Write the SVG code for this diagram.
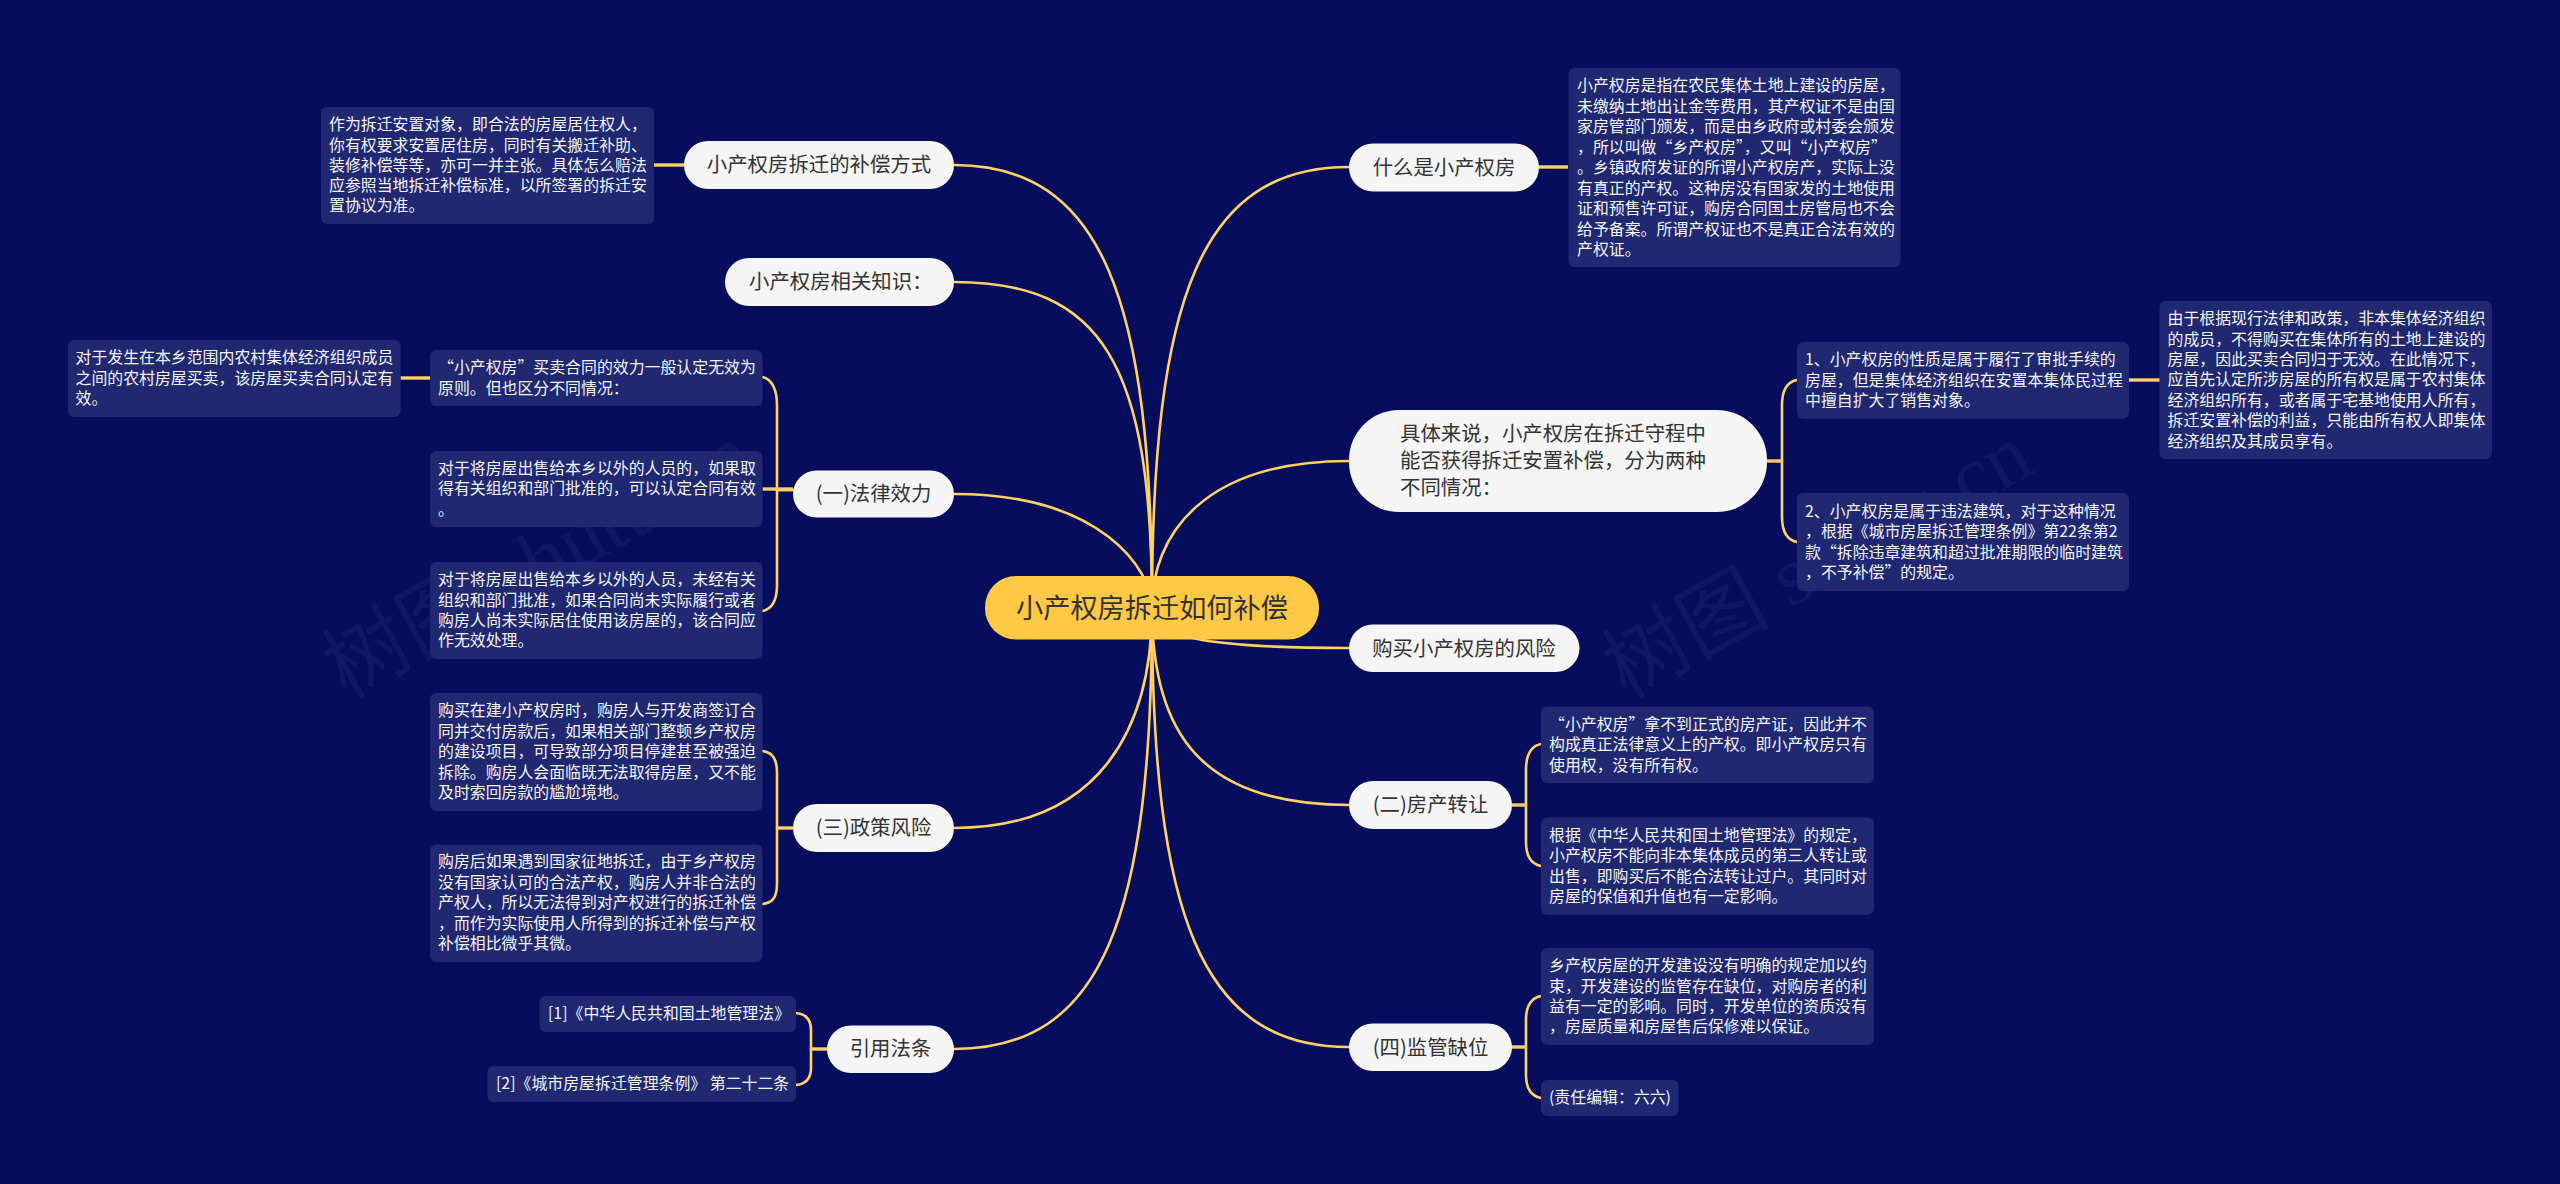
<svg xmlns="http://www.w3.org/2000/svg" width="2560" height="1184" viewBox="0 0 2560 1184">
<style>
text{font-family:"Noto Sans CJK SC","Noto Sans",sans-serif}
.c{fill:none;stroke:#ffd166;stroke-width:2.6;stroke-linecap:round}
.s{fill:none;stroke:#ffd166;stroke-width:3.4}
.n{fill:#f5f5f5}
.nt{fill:#333;font-size:20.4px;text-anchor:middle}
.ntl{fill:#333;font-size:20.4px}
.d{fill:#1f2870}
.dt{fill:#f4f4f8;font-size:15.9px}
.w{fill:#1a2070;font-size:84px;font-family:"Liberation Serif","Noto Sans CJK SC",serif;opacity:.55}
</style>
<rect width="2560" height="1184" fill="#050d5c"/>
<g id="watermark">
<text class="w" transform="translate(345 700) rotate(-29)">树图 shutu.cn</text>
<text class="w" transform="translate(1625 700) rotate(-29)">树图 shutu.cn</text>
</g>
<g id="connectors">
<path class="c" d="M1152,608C1152,298 1201,167 1349,167"/>
<path class="c" d="M1152,608C1152,537 1201,461 1349,461"/>
<path class="c" d="M1152,608C1152,636 1201,648 1349,648"/>
<path class="c" d="M1152,608C1152,733 1201,805 1349,805"/>
<path class="c" d="M1152,608C1152,915 1201,1047 1349,1047"/>
<path class="c" d="M1152,608C1152,298 1102,165 954,165"/>
<path class="c" d="M1152,608C1152,363 1102,282 954,282"/>
<path class="c" d="M1152,608C1152,570 1102,494 954,494"/>
<path class="c" d="M1152,608C1152,725 1102,828 954,828"/>
<path class="c" d="M1152,608C1152,920 1102,1049 954,1049"/>
<path class="s" d="M654,165H684"/>
<path class="s" d="M400.5,378H430"/>
<path class="s" d="M762.5,489H793"/>
<path class="c" d="M793,490H777V405C777,390 772,379 762.5,377"/>
<path class="c" d="M793,490H777V585C777,600 772,609 762.5,611"/>
<path class="s" d="M793,828H777"/>
<path class="c" d="M777,828V772C777,758 772,752 762.5,751"/>
<path class="c" d="M777,828V884C777,898 772,903 762.5,904"/>
<path class="s" d="M827,1049H811"/>
<path class="c" d="M811,1049V1030C811,1020 806,1014 796,1013"/>
<path class="c" d="M811,1049V1068C811,1078 806,1084 796,1085"/>
<path class="s" d="M1539,167H1568"/>
<path class="s" d="M1767,461H1782"/>
<path class="c" d="M1782,461V405C1782,390 1787,382 1797,380"/>
<path class="c" d="M1782,461V517C1782,532 1787,540 1797,542"/>
<path class="s" d="M2129,380H2160"/>
<path class="s" d="M1512,805H1526"/>
<path class="c" d="M1526,805V770C1526,755 1531,746 1541,744"/>
<path class="c" d="M1526,805V842C1526,857 1531,864 1541,866"/>
<path class="s" d="M1512,1047H1526"/>
<path class="c" d="M1526,1047V1020C1526,1007 1531,998 1541,996"/>
<path class="c" d="M1526,1047V1075C1526,1088 1531,1096 1541,1098"/>
</g>
<g id="root"><rect x="985" y="576" width="334" height="63.5" rx="31" fill="#ffc845"/><text x="1152" y="617.5" text-anchor="middle" fill="#333" font-size="27.2">小产权房拆迁如何补偿</text></g>

<g id="n1"><rect class="n" x="684" y="141" width="270" height="48" rx="24"/><text class="nt" x="819" y="172">小产权房拆迁的补偿方式</text></g>
<g id="n2"><rect class="n" x="725" y="258" width="229" height="48" rx="24"/><text class="ntl" x="749" y="289">小产权房相关知识：</text></g>
<g id="n3"><rect class="n" x="793" y="470.5" width="161" height="47" rx="23.5"/><text class="nt" x="873.5" y="501">(一)法律效力</text></g>
<g id="n4"><rect class="n" x="793" y="804" width="161" height="48" rx="24"/><text class="nt" x="873.5" y="835">(三)政策风险</text></g>
<g id="n5"><rect class="n" x="827" y="1025.5" width="127" height="47.5" rx="23.7"/><text class="nt" x="890.5" y="1056">引用法条</text></g>
<g id="n6"><rect class="n" x="1349" y="143.5" width="190" height="48" rx="24"/><text class="nt" x="1444" y="174.5">什么是小产权房</text></g>
<g id="n7"><rect class="n" x="1349" y="410" width="418" height="102" rx="50"/><text class="ntl" x="1400" y="440.7">具体来说，小产权房在拆迁守程中</text><text class="ntl" x="1400" y="468">能否获得拆迁安置补偿，分为两种</text><text class="ntl" x="1400" y="495.3">不同情况：</text></g>
<g id="n8"><rect class="n" x="1349" y="624.5" width="230.500" height="47.5" rx="23.700"/><text class="nt" x="1464" y="655.500">购买小产权房的风险</text></g>
<g id="n9"><rect class="n" x="1349" y="781" width="163" height="48" rx="24"/><text class="nt" x="1430.500" y="812">(二)房产转让</text></g>
<g id="n10"><rect class="n" x="1349" y="1023.500" width="163" height="47.500" rx="23.700"/><text class="nt" x="1430.500" y="1054.500">(四)监管缺位</text></g>

<g id="d1"><rect class="d" x="321" y="107" width="333" height="117" rx="6"/><text class="dt" x="329" y="130.2">作为拆迁安置对象，即合法的房屋居住权人，</text><text class="dt" x="329" y="150.500">你有权要求安置居住房，同时有关搬迁补助、</text><text class="dt" x="329" y="170.800">装修补偿等等，亦可一并主张。具体怎么赔法</text><text class="dt" x="329" y="191.100">应参照当地拆迁补偿标准，以所签署的拆迁安</text><text class="dt" x="329" y="211.400">置协议为准。</text></g>
<g id="d2"><rect class="d" x="68" y="340" width="332.500" height="77" rx="6"/><text class="dt" x="75.500" y="363.400">对于发生在本乡范围内农村集体经济组织成员</text><text class="dt" x="75.500" y="383.800">之间的农村房屋买卖，该房屋买卖合同认定有</text><text class="dt" x="75.500" y="404.200">效。</text></g>
<g id="d3"><rect class="d" x="430" y="350" width="332.500" height="56" rx="6"/><text class="dt" x="438" y="373.100">  “小产权房”买卖合同的效力一般认定无效为</text><text class="dt" x="438" y="393.500">原则。但也区分不同情况：</text></g>
<g id="d4"><rect class="d" x="430" y="451" width="332.500" height="76" rx="6"/><text class="dt" x="438" y="473.900">对于将房屋出售给本乡以外的人员的，如果取</text><text class="dt" x="438" y="494.300">得有关组织和部门批准的，可以认定合同有效</text><text class="dt" x="438" y="514.700">。</text></g>
<g id="d5"><rect class="d" x="430" y="562" width="332.500" height="97" rx="6"/><text class="dt" x="438" y="585.200">对于将房屋出售给本乡以外的人员，未经有关</text><text class="dt" x="438" y="605.600">组织和部门批准，如果合同尚未实际履行或者</text><text class="dt" x="438" y="626">购房人尚未实际居住使用该房屋的，该合同应</text><text class="dt" x="438" y="646.400">作无效处理。</text></g>
<g id="d6"><rect class="d" x="430" y="693" width="332.500" height="118" rx="6"/><text class="dt" x="438" y="716.300">购买在建小产权房时，购房人与开发商签订合</text><text class="dt" x="438" y="736.800">同并交付房款后，如果相关部门整顿乡产权房</text><text class="dt" x="438" y="757.300">的建设项目，可导致部分项目停建甚至被强迫</text><text class="dt" x="438" y="777.800">拆除。购房人会面临既无法取得房屋，又不能</text><text class="dt" x="438" y="798.300">及时索回房款的尴尬境地。</text></g>
<g id="d7"><rect class="d" x="430" y="844.500" width="332.500" height="117.500" rx="6"/><text class="dt" x="438" y="867.300">购房后如果遇到国家征地拆迁，由于乡产权房</text><text class="dt" x="438" y="887.800">没有国家认可的合法产权，购房人并非合法的</text><text class="dt" x="438" y="908.300">产权人，所以无法得到对产权进行的拆迁补偿</text><text class="dt" x="438" y="928.800">，而作为实际使用人所得到的拆迁补偿与产权</text><text class="dt" x="438" y="949.300">补偿相比微乎其微。</text></g>
<g id="d8"><rect class="d" x="539.500" y="996" width="256.500" height="36" rx="6"/><text class="dt" x="548" y="1019.300">[1]《中华人民共和国土地管理法》</text></g>
<g id="d9"><rect class="d" x="487.500" y="1066" width="308.500" height="36" rx="6"/><text class="dt" x="496" y="1089.300">[2]《城市房屋拆迁管理条例》 第二十二条</text></g>
<g id="d10"><rect class="d" x="1568.500" y="68" width="332" height="199" rx="6"/><text class="dt" x="1577" y="91">小产权房是指在农民集体土地上建设的房屋，</text><text class="dt" x="1577" y="111.500">未缴纳土地出让金等费用，其产权证不是由国</text><text class="dt" x="1577" y="132">家房管部门颁发，而是由乡政府或村委会颁发</text><text class="dt" x="1577" y="152.500">，所以叫做“乡产权房”，又叫“小产权房”</text><text class="dt" x="1577" y="173">。乡镇政府发证的所谓小产权房产，实际上没</text><text class="dt" x="1577" y="193.500">有真正的产权。这种房没有国家发的土地使用</text><text class="dt" x="1577" y="214">证和预售许可证，购房合同国土房管局也不会</text><text class="dt" x="1577" y="234.500">给予备案。所谓产权证也不是真正合法有效的</text><text class="dt" x="1577" y="255">产权证。</text></g>
<g id="d11"><rect class="d" x="1797" y="342" width="332" height="76.700" rx="6"/><text class="dt" x="1805" y="365.200">1、小产权房的性质是属于履行了审批手续的</text><text class="dt" x="1805" y="385.600">房屋，但是集体经济组织在安置本集体民过程</text><text class="dt" x="1805" y="406">中擅自扩大了销售对象。</text></g>
<g id="d12"><rect class="d" x="1797" y="493" width="332" height="98" rx="6"/><text class="dt" x="1805" y="516.700">2、小产权房是属于违法建筑，对于这种情况</text><text class="dt" x="1805" y="537.100">，根据《城市房屋拆迁管理条例》第22条第2</text><text class="dt" x="1805" y="557.500">款“拆除违章建筑和超过批准期限的临时建筑</text><text class="dt" x="1805" y="577.900">，不予补偿”的规定。</text></g>
<g id="d13"><rect class="d" x="2159.500" y="301" width="332.500" height="158" rx="6"/><text class="dt" x="2167.500" y="324.100">由于根据现行法律和政策，非本集体经济组织</text><text class="dt" x="2167.500" y="344.500">的成员，不得购买在集体所有的土地上建设的</text><text class="dt" x="2167.500" y="364.900">房屋，因此买卖合同归于无效。在此情况下，</text><text class="dt" x="2167.500" y="385.300">应首先认定所涉房屋的所有权是属于农村集体</text><text class="dt" x="2167.500" y="405.700">经济组织所有，或者属于宅基地使用人所有，</text><text class="dt" x="2167.500" y="426.100">拆迁安置补偿的利益，只能由所有权人即集体</text><text class="dt" x="2167.500" y="446.500">经济组织及其成员享有。</text></g>
<g id="d14"><rect class="d" x="1541" y="706.500" width="333" height="76.500" rx="6"/><text class="dt" x="1549" y="729.700">  “小产权房”拿不到正式的房产证，因此并不</text><text class="dt" x="1549" y="750.100">构成真正法律意义上的产权。即小产权房只有</text><text class="dt" x="1549" y="770.500">使用权，没有所有权。</text></g>
<g id="d15"><rect class="d" x="1541" y="817.500" width="333" height="97.200" rx="6"/><text class="dt" x="1549" y="840.700">根据《中华人民共和国土地管理法》的规定，</text><text class="dt" x="1549" y="861.100">小产权房不能向非本集体成员的第三人转让或</text><text class="dt" x="1549" y="881.500">出售，即购买后不能合法转让过户。其同时对</text><text class="dt" x="1549" y="901.900">房屋的保值和升值也有一定影响。</text></g>
<g id="d16"><rect class="d" x="1541" y="948" width="333" height="97" rx="6"/><text class="dt" x="1549" y="971.200">乡产权房屋的开发建设没有明确的规定加以约</text><text class="dt" x="1549" y="991.600">束，开发建设的监管存在缺位，对购房者的利</text><text class="dt" x="1549" y="1012">益有一定的影响。同时，开发单位的资质没有</text><text class="dt" x="1549" y="1032.400">，房屋质量和房屋售后保修难以保证。</text></g>
<g id="d17"><rect class="d" x="1541" y="1080" width="137.600" height="36" rx="6"/><text class="dt" x="1549" y="1103.300">(责任编辑：六六)</text></g>
</svg>
